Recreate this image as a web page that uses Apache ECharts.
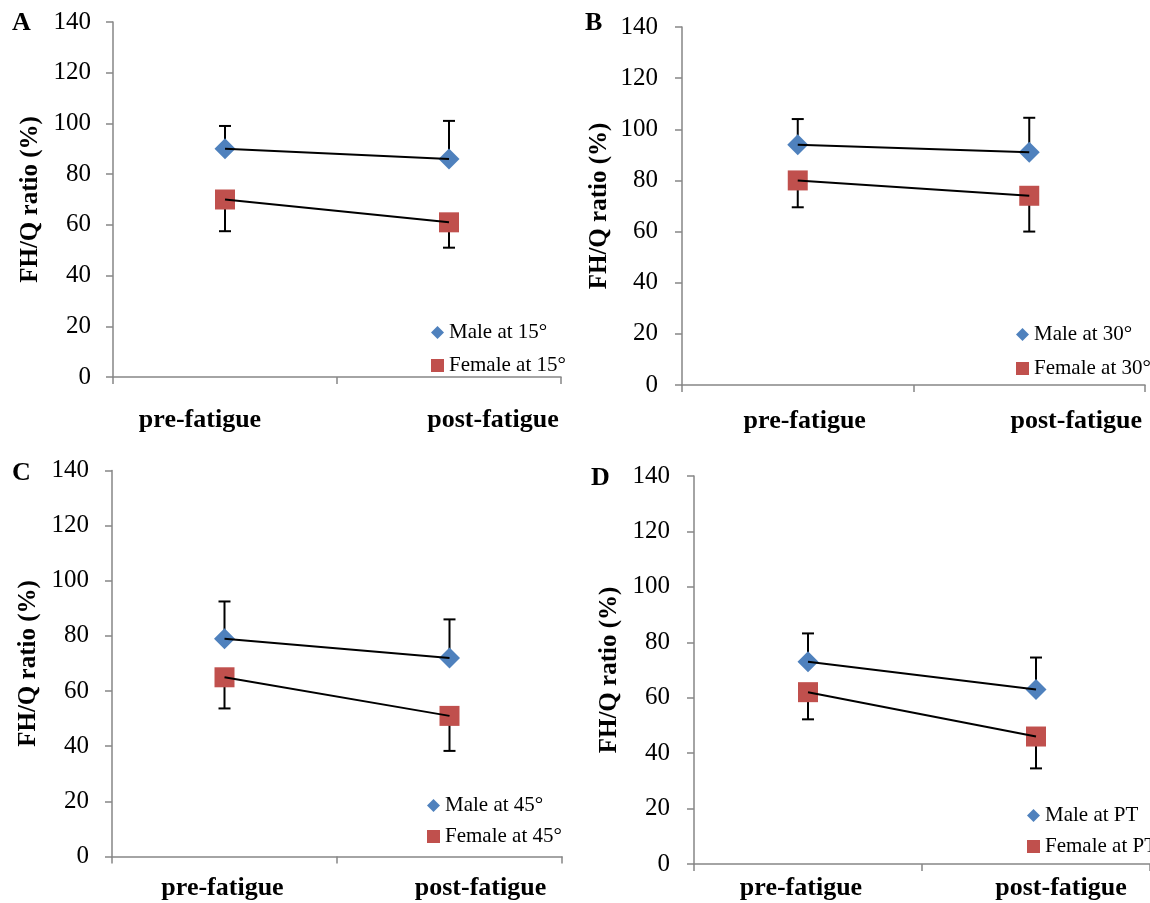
<!DOCTYPE html>
<html>
<head>
<meta charset="utf-8">
<script src="https://cdn.jsdelivr.net/npm/echarts@6/dist/echarts.min.js"></script>
<style>
html,body{margin:0;padding:0;background:#fff;}
#chart{width:1150px;height:903px;}
</style>
</head>
<body>
<div id="chart"></div>
<script>
// ---- data ----
const categories = ['pre-fatigue', 'post-fatigue'];
const panelLetters = ['A', 'B', 'C', 'D'];
const maleNames = ['Male at 15°', 'Male at 30°', 'Male at 45°', 'Male at PT'];
const femaleNames = ['Female at 15°', 'Female at 30°', 'Female at 45°', 'Female at PT'];
const yTitle = 'FH/Q ratio (%)';

// means
const male15 = [90, 86];
const female15 = [70, 61];
const male30 = [94, 91];
const female30 = [80, 74];
const male45 = [79, 72];
const female45 = [65, 51];
const malePT = [73, 63];
const femalePT = [62, 46];

// error bar ends (male: upper, female: lower)
const male15Err = [99, 101];
const female15Err = [57.5, 51];
const male30Err = [104, 104.5];
const female30Err = [69.5, 60];
const male45Err = [92.5, 86];
const female45Err = [53.7, 38.3];
const malePTErr = [83.2, 74.5];
const femalePTErr = [52.2, 34.5];

const maleData = [male15, male30, male45, malePT];
const femaleData = [female15, female30, female45, femalePT];
const maleErr = [male15Err, male30Err, male45Err, malePTErr];
const femaleErr = [female15Err, female30Err, female45Err, femalePTErr];

// ---- layout (positions / styles) ----
const FONT = '"Liberation Serif", "Times New Roman", serif';
const BLUE = '#4F81BD', RED = '#C0504D', AXIS = '#868686';
const layout = [
  {grid:{left:113, top:22, width:448, height:355}, yMargin:22, xMargin:30, nameGap:70,
   shift:[-25, 44], letter:{left:12, cy:23}, legend:{left:431, top:322, gap:12}},
  {grid:{left:682, top:27, width:463, height:358}, yMargin:24, xMargin:23, nameGap:70,
   shift:[7, 47], letter:{left:585, cy:23}, legend:{left:1016, top:324, gap:13}},
  {grid:{left:112, top:470.5, width:450, height:386}, yMargin:23, xMargin:19, nameGap:71,
   shift:[-2, 31], letter:{left:12, cy:473}, legend:{left:427, top:795, gap:10}},
  {grid:{left:694, top:476, width:466, height:388}, yMargin:24, xMargin:11, nameGap:72,
   shift:[-7, 25], letter:{left:591, cy:478}, legend:{left:1027, top:805, gap:10}}
];

function padFor(s){ return s >= 0 ? [0, 0, 0, 2*s] : [0, -2*s, 0, 0]; }

const option = {animation:false, backgroundColor:'#fff',
  grid:[], xAxis:[], yAxis:[], series:[], legend:[], title:[]};

layout.forEach((L, i) => {
  option.grid.push(L.grid);
  const rich = {};
  categories.forEach((c, k) => {
    rich['c' + k] = {fontFamily:FONT, fontWeight:'bold', fontSize:26, color:'#000', padding:padFor(L.shift[k])};
  });
  option.xAxis.push({
    type:'category', gridIndex:i, data:categories, boundaryGap:true,
    axisLine:{lineStyle:{color:AXIS, width:1.5}},
    axisTick:{show:true, length:7, lineStyle:{color:AXIS, width:1.5}},
    axisLabel:{margin:L.xMargin, interval:0,
      formatter:(v, idx) => '{c' + idx + '|' + v + '}', rich:rich}
  });
  option.yAxis.push({
    type:'value', gridIndex:i, min:0, max:140, interval:20,
    name:yTitle, nameLocation:'middle', nameRotate:90, nameGap:L.nameGap,
    nameTextStyle:{fontFamily:FONT, fontWeight:'bold', fontSize:25, color:'#000'},
    axisLine:{show:true, lineStyle:{color:AXIS, width:1.5}},
    axisTick:{show:true, length:7, lineStyle:{color:AXIS, width:1.5}},
    splitLine:{show:false},
    axisLabel:{margin:L.yMargin, fontFamily:FONT, fontSize:25, color:'#000'}
  });
  option.title.push({text:panelLetters[i], left:L.letter.left, top:L.letter.cy - 13, padding:0,
    textStyle:{fontFamily:FONT, fontWeight:'bold', fontSize:26, color:'#000'}});
  option.legend.push({
    data:[maleNames[i], femaleNames[i]], orient:'vertical',
    left:L.legend.left, top:L.legend.top, itemGap:L.legend.gap, padding:0,
    itemWidth:13, itemHeight:13,
    textStyle:{fontFamily:FONT, fontSize:21, color:'#000'}
  });
  // error bars (beneath markers)
  [[maleData[i], maleErr[i]], [femaleData[i], femaleErr[i]]].forEach(([m, e]) => {
    option.series.push({type:'custom', xAxisIndex:i, yAxisIndex:i, z:1, silent:true,
      data:m.map((v, k) => [k, v, e[k]]),
      encode:{x:0, y:[1, 2]},
      renderItem:function(params, api){
        const x = api.value(0);
        const p0 = api.coord([x, api.value(1)]);
        const p1 = api.coord([x, api.value(2)]);
        const w = 6;
        const st = {stroke:'#000', lineWidth:2};
        return {type:'group', children:[
          {type:'line', shape:{x1:p0[0], y1:p0[1], x2:p1[0], y2:p1[1]}, style:st},
          {type:'line', shape:{x1:p1[0]-w, y1:p1[1], x2:p1[0]+w, y2:p1[1]}, style:st}
        ]};
      }
    });
  });
  // markers
  option.series.push({type:'scatter', name:maleNames[i], xAxisIndex:i, yAxisIndex:i,
    data:maleData[i], symbol:'diamond', symbolSize:[21, 21], itemStyle:{color:BLUE, opacity:1}, z:2});
  option.series.push({type:'scatter', name:femaleNames[i], xAxisIndex:i, yAxisIndex:i,
    data:femaleData[i], symbol:'rect', symbolSize:20, itemStyle:{color:RED, opacity:1}, z:2});
  // connecting black lines
  [maleData[i], femaleData[i]].forEach(d => {
    option.series.push({type:'line', xAxisIndex:i, yAxisIndex:i, data:d, symbol:'none',
      lineStyle:{color:'#000', width:2}, z:3, silent:true});
  });
});

const chart = echarts.init(document.getElementById('chart'), null, {renderer:'canvas'});
chart.setOption(option);
</script>
</body>
</html>
